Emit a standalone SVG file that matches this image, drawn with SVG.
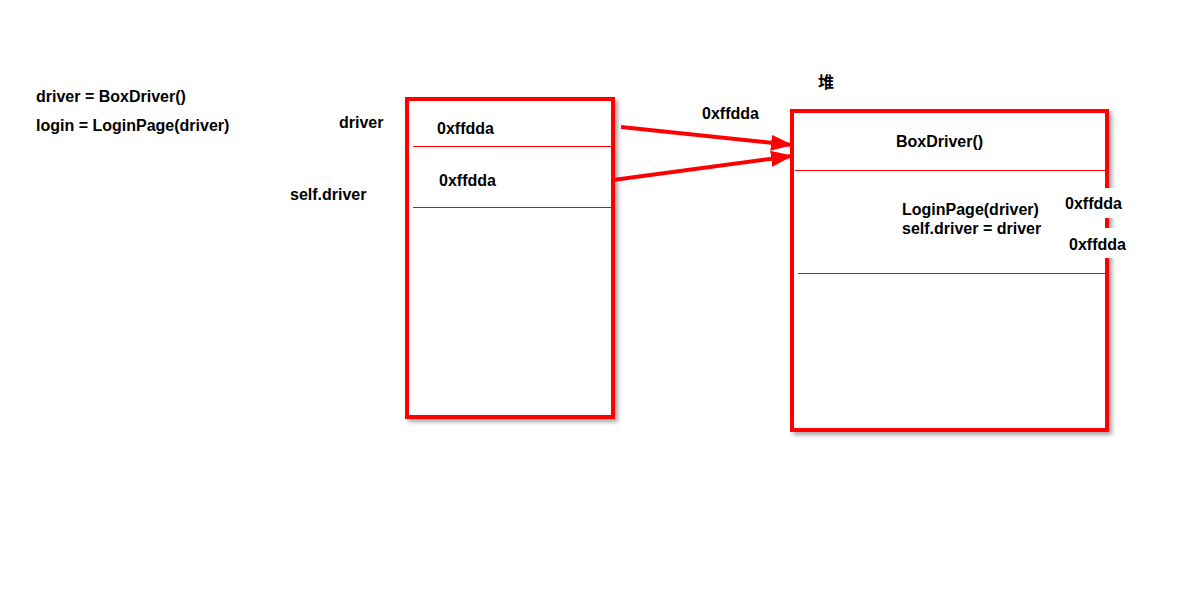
<svg xmlns="http://www.w3.org/2000/svg" width="1185" height="600" viewBox="0 0 1185 600">
<defs>
<filter id="sh" x="-10%" y="-10%" width="130%" height="130%">
<feDropShadow dx="3" dy="3" stdDeviation="2" flood-color="#000" flood-opacity="0.35"/>
</filter>
<marker id="ah" markerWidth="22" markerHeight="16" refX="21" refY="8" orient="auto" markerUnits="userSpaceOnUse">
<path d="M0,0 L22,8 L0,16 Z" fill="#ff0000"/>
</marker>
<style>
text{font-family:"Liberation Sans",Arial,"Noto Sans CJK SC",sans-serif;font-size:16px;font-weight:bold;fill:#000}
.box{fill:#fff;stroke:#ff0000;stroke-width:4}
.div{stroke:#ff0000;stroke-width:1}
.arr{stroke:#ff0000;stroke-width:4;fill:none}
</style>
</defs>
<rect width="1185" height="600" fill="#fff"/>
<g id="code">
<text x="36" y="102">driver = BoxDriver()</text>
<text x="36" y="131">login = LoginPage(driver)</text>
</g>
<g id="stack">
<rect class="box" x="407" y="99" width="206" height="318" filter="url(#sh)"/>
<line class="div" x1="413" y1="146.5" x2="611" y2="146.5"/>
<line class="div" x1="413" y1="207.5" x2="611" y2="207.5"/>
<text x="339" y="128">driver</text>
<text x="290" y="200">self.driver</text>
<text x="437" y="134">0xffdda</text>
<text x="439" y="186">0xffdda</text>
</g>
<g id="heap">
<rect class="box" x="792" y="111" width="315" height="319" filter="url(#sh)"/>
<line class="div" x1="795" y1="170.5" x2="1105" y2="170.5"/>
<line class="div" x1="798" y1="273.5" x2="1108" y2="273.5"/>
<text x="818" y="88">堆</text>
<text x="896" y="147">BoxDriver()</text>
<text x="902" y="215">LoginPage(driver)</text>
<text x="902" y="234">self.driver = driver</text>
<rect x="1058" y="188" width="67" height="30" fill="#fff"/>
<rect x="1063" y="228" width="65" height="30" fill="#fff"/>
<text x="1065" y="209">0xffdda</text>
<text x="1069" y="250">0xffdda</text>
</g>
<g id="connectors">
<line class="arr" x1="621" y1="127" x2="792" y2="145" marker-end="url(#ah)"/>
<line class="arr" x1="613" y1="180" x2="792" y2="156" marker-end="url(#ah)"/>
<text x="702" y="119">0xffdda</text>
</g>
</svg>
